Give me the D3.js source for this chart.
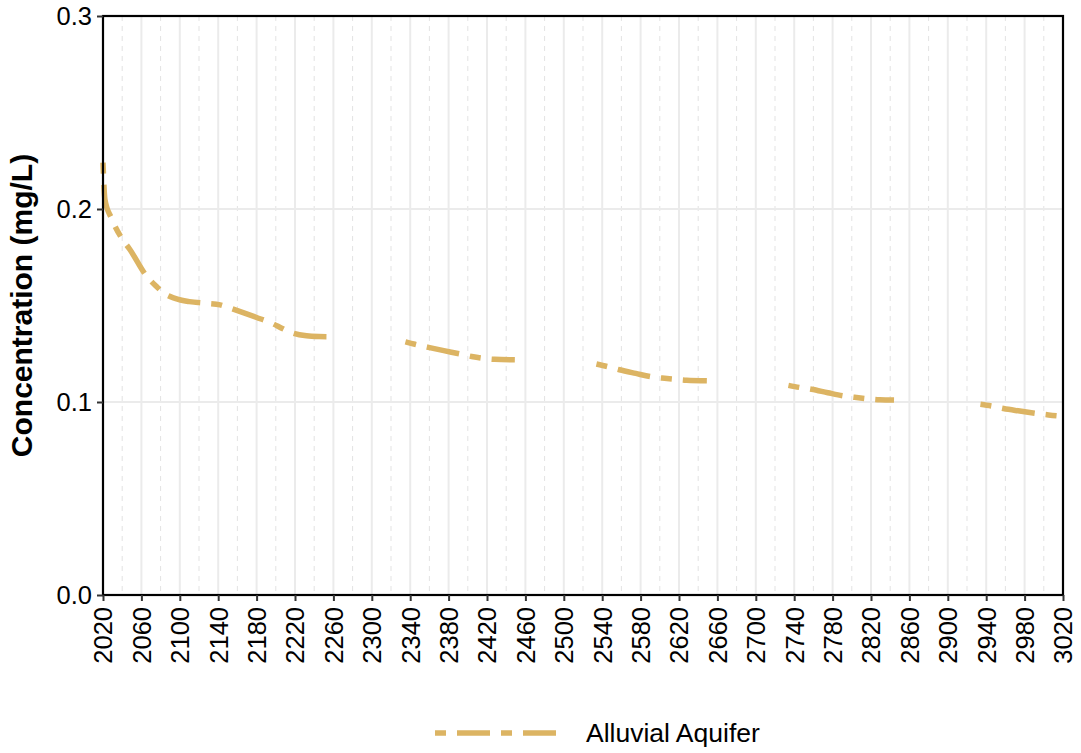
<!DOCTYPE html>
<html>
<head>
<meta charset="utf-8">
<script src="https://cdn.jsdelivr.net/npm/d3@7"></script>
<style>
  html, body { margin: 0; padding: 0; background: #ffffff; }
  svg { display: block; font-family: "Liberation Sans", Arial, sans-serif; }
</style>
</head>
<body>
<svg id="chart" width="1081" height="753"></svg>
<script>
// ---- data ----
const seriesName = "Alluvial Aquifer";
const years = [2020, 2022, 2029, 2040, 2048, 2065, 2076, 2083, 2095, 2110, 2128, 2142, 2152, 2166, 2180, 2196, 2208, 2218, 2232, 2245, 2259,
               2300,
               2335, 2345, 2359, 2375, 2392, 2404, 2415, 2428, 2449,
               2500,
               2534, 2546, 2558, 2575, 2591, 2605, 2616, 2628, 2649,
               2700,
               2734, 2746, 2758, 2775, 2791, 2805, 2816, 2829, 2844,
               2900,
               2934, 2946, 2958, 2975, 2992, 3005, 3020];
const concentration = [0.224, 0.205, 0.195, 0.1845, 0.179, 0.1655, 0.1597, 0.1565, 0.1537, 0.152, 0.1511, 0.1503, 0.1487, 0.1463, 0.1438, 0.1408, 0.1378, 0.1357, 0.1343, 0.1339, 0.1338,
               null,
               0.1312, 0.1299, 0.1283, 0.1266, 0.1249, 0.1236, 0.1227, 0.1221, 0.1219,
               null,
               0.1197, 0.1183, 0.1167, 0.1148, 0.1131, 0.1123, 0.1118, 0.1113, 0.1110,
               null,
               0.1086, 0.1075, 0.1066, 0.1048, 0.1032, 0.1023, 0.1017, 0.1012, 0.1010,
               null,
               0.0988, 0.0979, 0.0966, 0.0953, 0.0941, 0.0933, 0.0926];
const xMajorTicks = d3.range(2020, 3021, 40);
const xMinorTicks = d3.range(2040, 3020, 40);
const yTicks = [0.0, 0.1, 0.2, 0.3];
const yTitle = "Concentration (mg/L)";

(function () {
// ---- layout ----
const svg = d3.select("#chart");
const pLeft = 103, pRight = 1063, pTop = 16, pBottom = 595;
const x = d3.scaleLinear().domain([2020, 3020]).range([pLeft, pRight]);
const y = d3.scaleLinear().domain([0, 0.3]).range([pBottom, pTop]);
const lineColor = "#dcb463";
const dashPattern = "11,11,33,11";

// grid
const grid = svg.append("g");
grid.selectAll("line.minor").data(xMinorTicks).join("line")
  .attr("class", "minor")
  .attr("x1", d => x(d)).attr("x2", d => x(d))
  .attr("y1", pTop).attr("y2", pBottom)
  .attr("stroke", "#e3e3e3").attr("stroke-width", 1)
  .attr("stroke-dasharray", "5,5");
grid.selectAll("line.majx").data(xMajorTicks).join("line")
  .attr("class", "majx")
  .attr("x1", d => x(d)).attr("x2", d => x(d))
  .attr("y1", pTop).attr("y2", pBottom)
  .attr("stroke", "#ebebeb").attr("stroke-width", 2);
grid.selectAll("line.majy").data(yTicks).join("line")
  .attr("class", "majy")
  .attr("x1", pLeft).attr("x2", pRight)
  .attr("y1", d => y(d)).attr("y2", d => y(d))
  .attr("stroke", "#ebebeb").attr("stroke-width", 2);

// data line: one path per defined segment so the dash pattern restarts
const pts = years.map((yr, i) => ({ year: yr, value: concentration[i] }));
const segments = [];
let cur = [];
pts.forEach(p => {
  if (p.value === null) { if (cur.length) segments.push(cur); cur = []; }
  else cur.push(p);
});
if (cur.length) segments.push(cur);

const line = d3.line()
  .x(d => x(d.year)).y(d => y(d.value))
  .curve(d3.curveMonotoneX);

svg.append("g").selectAll("path").data(segments).join("path")
  .attr("d", line)
  .attr("fill", "none")
  .attr("stroke", lineColor)
  .attr("stroke-width", 5.5)
  .attr("stroke-dasharray", dashPattern);

// panel border
svg.append("rect")
  .attr("x", pLeft).attr("y", pTop)
  .attr("width", pRight - pLeft).attr("height", pBottom - pTop)
  .attr("fill", "none").attr("stroke", "#000").attr("stroke-width", 2.2);

// axes
const xAxis = d3.axisBottom(x).tickValues(xMajorTicks).tickFormat(d3.format("d"))
  .tickSizeOuter(0).tickSizeInner(6).tickPadding(4);
const gx = svg.append("g").attr("transform", `translate(0,${pBottom})`).call(xAxis);
gx.select(".domain").remove();
gx.selectAll(".tick line").attr("stroke", "#333").attr("stroke-width", 2);
gx.selectAll(".tick text")
  .attr("font-size", 25.5).attr("fill", "#000")
  .attr("transform", "rotate(-90)")
  .attr("text-anchor", "end")
  .attr("x", -12).attr("y", 0).attr("dy", "0.35em");

const yAxis = d3.axisLeft(y).tickValues(yTicks).tickFormat(d3.format(".1f"))
  .tickSizeOuter(0).tickSizeInner(6).tickPadding(5);
const gy = svg.append("g").attr("transform", `translate(${pLeft},0)`).call(yAxis);
gy.select(".domain").remove();
gy.selectAll(".tick line").attr("stroke", "#333").attr("stroke-width", 2);
gy.selectAll(".tick text").attr("font-size", 25.5).attr("fill", "#000");

// y title
svg.append("text")
  .attr("transform", `translate(32,${(pTop + pBottom) / 2}) rotate(-90)`)
  .attr("text-anchor", "middle")
  .attr("font-size", 30).attr("font-weight", "bold").attr("fill", "#000")
  .text(yTitle);

// legend
const lg = svg.append("g");
lg.append("line")
  .attr("x1", 435).attr("x2", 556).attr("y1", 733).attr("y2", 733)
  .attr("stroke", lineColor).attr("stroke-width", 5.5)
  .attr("stroke-dasharray", dashPattern);
lg.append("text")
  .attr("x", 586).attr("y", 733).attr("dy", "0.35em")
  .attr("font-size", 26.5).attr("fill", "#000")
  .text(seriesName);
})();
</script>
</body>
</html>
